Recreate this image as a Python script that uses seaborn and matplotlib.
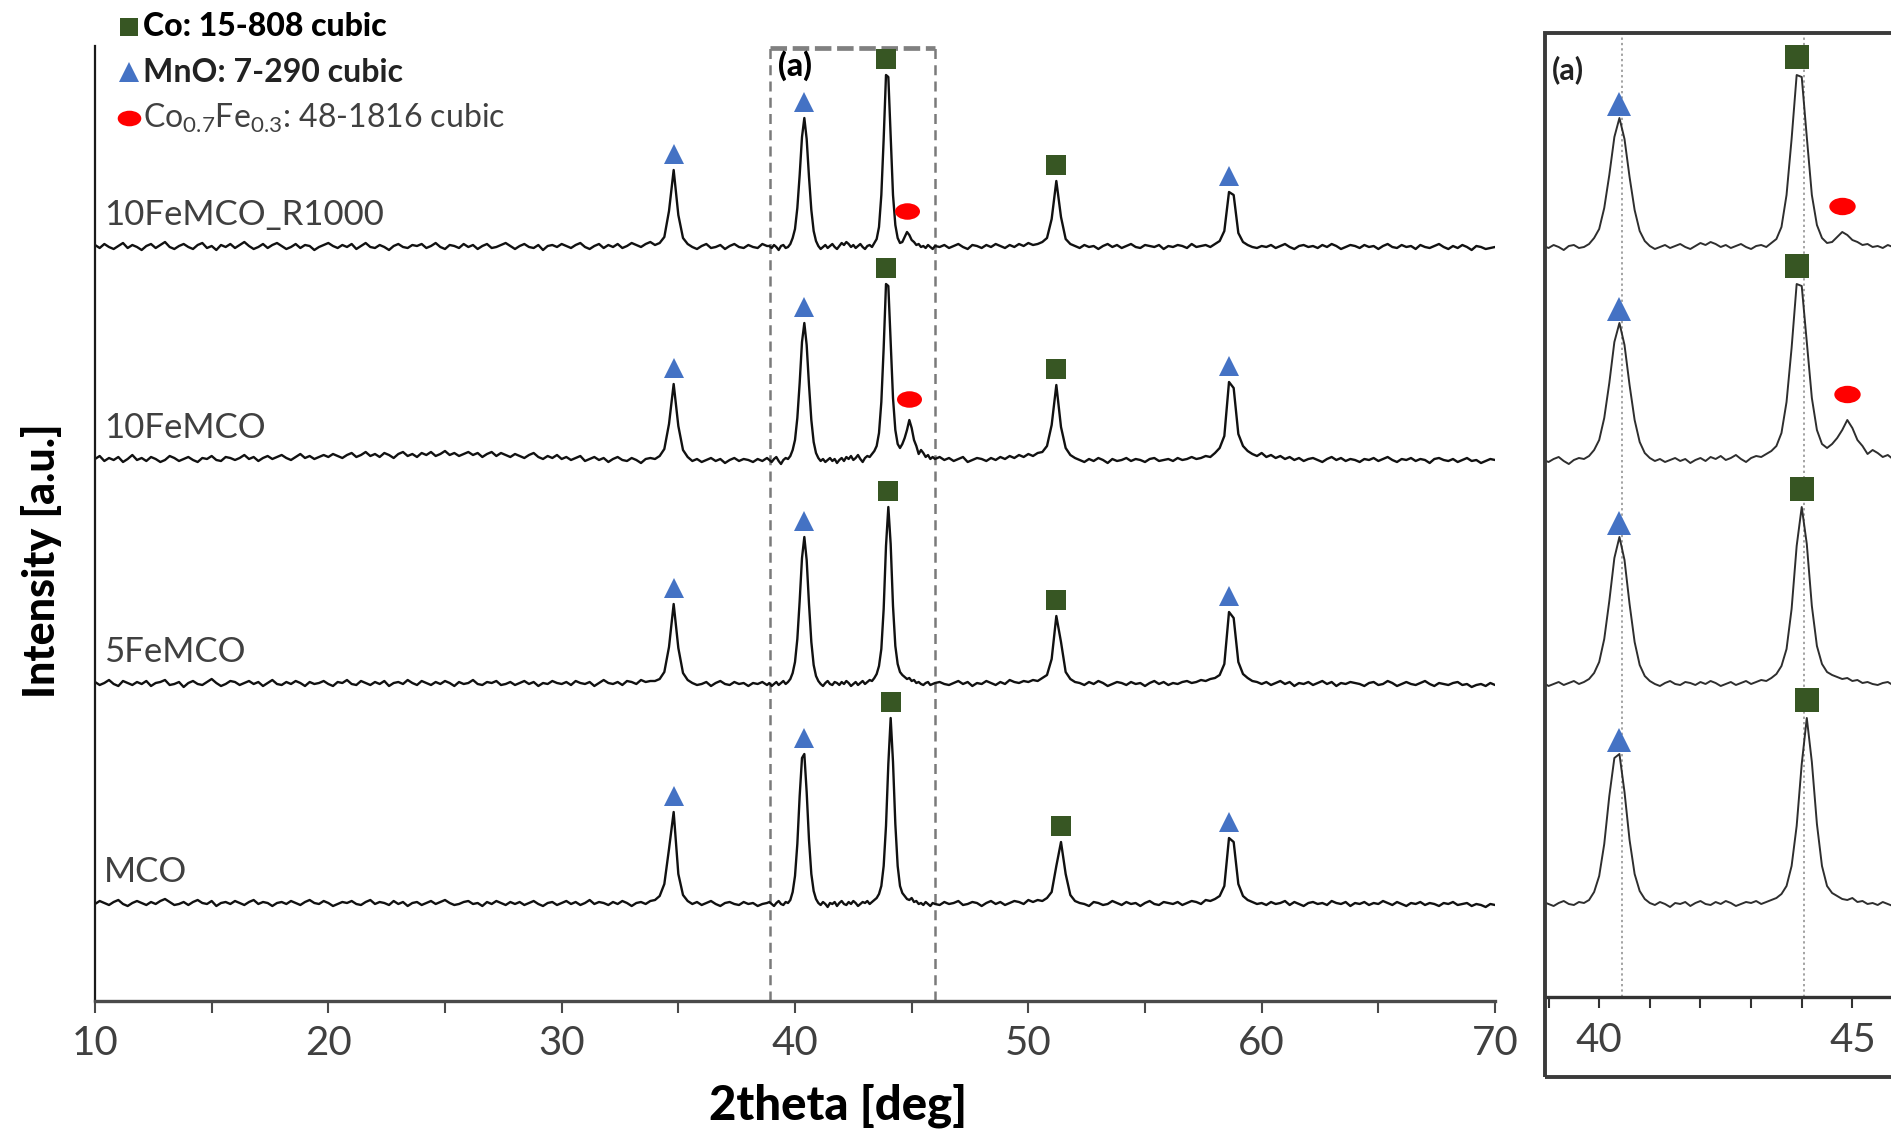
import numpy as np
import pandas as pd
import matplotlib
matplotlib.use("Agg")
import matplotlib.pyplot as plt
import seaborn as sns
from matplotlib.path import Path
from matplotlib.patches import Rectangle
from matplotlib.lines import Line2D
from matplotlib.ticker import MultipleLocator

# ---------------------------------------------------------------- data
samples = ["10FeMCO_R1000", "10FeMCO", "5FeMCO", "MCO"]

# Intensities (a.u.) on three 2theta segments:
#   lo  : 10.0 - 38.8 deg, 0.2 deg step
#   mid : 38.9 - 46.0 deg, 0.1 deg step
#   hi  : 46.2 - 70.0 deg, 0.2 deg step
r1000_lo = [2, -1, 3, 0, -2, 1, 4, -1, 2, 0,
            -3, 1, 3, -1, 2, 5, 0, -2, 1, 3,
            0, -2, 2, 4, -1, 1, -3, 2, 0, 3,
            -1, 2, 5, 1, -2, 0, 3, -1, 2, 4,
            1, -2, 0, 3, -1, 2, 1, -3, 0, 2,
            4, 1, -1, 2, 0, 3, -2, 1, 4, 0,
            -1, 2, 0, -3, 1, 3, 0, -1, 2, 1,
            3, -1, 1, 4, 0, -2, 2, 1, -1, 3,
            0, 2, -2, 1, 3, -1, 0, 2, 4, 1,
            -2, 1, 3, 0, -1, 2, -3, 1, 2, 0,
            3, 1, -1, 2, 4, 0, -2, 1, 3, -1,
            2, 0, 3, -1, 1, 4, 2, 0, 3, 5,
            2, 4, 10, 36, 77, 32, 9, 3, 0, -2,
            1, 3, -1, 0, 2, -2, 1, 3, 0, -1,
            2, 0, -1, 3, 1]
r1000_mid = [1, -1, 2, 0, -3, 1, 2, -1, 0, 3,
             9, 18, 39, 72, 110, 129, 108, 70, 37, 16,
             6, 1, -2, 0, 2, -1, 1, 3, 0, -2,
             1, 4, 2, 5, 3, 0, 2, -1, 1, 3,
             0, -2, 1, 2, 0, 4, 8, 20, 52, 108,
             172, 170, 110, 52, 22, 9, 4, 5, 10, 15,
             12, 7, 5, 2, 3, 0, 1, -1, 2, 0,
             -2, 1]
r1000_hi = [0, 2, -1, 1, 3, 0, -2, 2, 1, -1,
            2, 0, 3, 1, -1, 2, 0, 3, 1, 4,
            2, 3, 5, 9, 28, 66, 30, 8, 3, 1,
            -1, 2, 0, 1, -2, 1, 3, 0, 2, -1,
            1, 3, 0, -1, 2, 1, 0, 2, -2, 1,
            0, 2, 1, -1, 3, 0, 1, 2, 0, 3,
            6, 16, 55, 52, 14, 5, 2, 0, -1, 1,
            0, 2, -1, 1, 3, 0, -2, 1, 2, 0,
            1, -1, 2, 0, 3, 1, -2, 0, 2, 1,
            -1, 2, 0, 1, -2, 1, 3, 0, -1, 2,
            0, 1, -2, 2, 0, -1, 1, 3, 0, -2,
            1, -1, 2, 0, -3, 1, 0, -2, -1, 0]

fe10_lo = [1, 4, -1, 2, 0, 3, -2, 1, 5, 0,
           2, -1, 3, 1, -2, 0, 4, 2, -1, 1,
           3, 0, -2, 2, 1, 4, 0, -1, 3, 2,
           0, 2, 5, 1, 3, -1, 2, 4, 1, 3,
           5, 2, 0, 3, 6, 2, 4, 1, 3, 5,
           3, 6, 4, 2, 5, 7, 3, 5, 8, 4,
           6, 3, 7, 5, 2, 6, 8, 4, 6, 3,
           7, 5, 8, 4, 6, 9, 5, 7, 4, 6,
           8, 5, 7, 3, 6, 8, 4, 7, 5, 3,
           6, 4, 2, 5, 7, 3, 1, 4, 2, 5,
           1, 3, 0, 2, 4, -1, 1, 3, 0, 2,
           -2, 1, 3, 0, -1, 2, 0, -3, 1, 2,
           1, 4, 11, 36, 76, 34, 10, 3, -1, 1,
           -2, 0, 2, -1, 1, -3, 0, 2, -1, 1,
           0, -2, 1, -1, 2]
fe10_mid = [0, -2, 1, 3, -1, -4, 0, 2, 1, 4,
            10, 20, 42, 77, 118, 137, 115, 75, 40, 18,
            7, 2, -1, 1, -2, 0, 2, -1, 1, -3,
            0, 2, -1, 3, 1, 4, 0, 2, 5, 1,
            -2, 2, 4, 3, 6, 9, 14, 27, 58, 112,
            176, 174, 118, 62, 30, 16, 12, 16, 22, 30,
            40, 32, 20, 14, 6, 10, 7, 3, 5, 1,
            3, 1]
fe10_hi = [3, 0, 2, -1, 1, 3, -2, 0, 2, 1,
           -1, 2, 0, 3, 1, 4, 2, 5, 3, 6,
           4, 7, 8, 14, 35, 75, 33, 12, 5, 2,
           0, -2, 1, -1, 2, 0, -3, 1, -1, 0,
           2, -1, 1, 0, -2, 1, 2, -1, 0, 1,
           -1, 2, 0, 1, 3, 1, 2, 4, 3, 7,
           12, 24, 78, 72, 26, 14, 9, 6, 4, 7,
           3, 5, 2, 4, 1, 3, 0, 2, -1, 1,
           2, 0, -2, 1, 3, 0, 2, -1, 1, 0,
           -2, 1, 0, 2, -1, 1, 3, 0, -2, 1,
           0, 2, -1, 1, 0, -3, 1, 2, 0, -1,
           1, -2, 0, 2, -1, 0, -3, -1, 1, 0]

fe5_lo = [2, -1, 1, 4, 0, -2, 3, 1, -1, 2,
          0, 3, -2, 1, 2, 4, -1, 0, 2, -3,
          1, 3, 0, -1, 2, 5, 1, -2, 0, 3,
          2, -1, 1, 3, 0, 2, -2, 1, 4, 0,
          -1, 2, 0, 3, 1, -2, 2, 0, 1, 3,
          0, -2, 2, 1, 4, 0, -1, 3, 1, -1,
          2, 0, 3, -2, 1, 2, 0, 4, 1, -1,
          3, 1, -1, 2, 0, 3, 1, -2, 2, 0,
          1, 4, 0, -1, 2, 1, 3, -1, 0, 2,
          -1, 1, 3, 0, 2, -2, 1, 0, 3, 1,
          0, 2, -1, 3, 1, 0, 2, -2, 1, 4,
          1, 0, 2, -1, 3, 2, 0, 4, 2, 3,
          3, 5, 12, 37, 80, 36, 11, 4, 1, -1,
          0, 2, -2, 1, 3, 0, -1, 2, 0, 1,
          -2, 1, 0, 2, -1]
fe5_mid = [1, -2, 0, 2, -1, 1, 3, 0, 2, 5,
           11, 22, 45, 83, 126, 147, 124, 80, 42, 19,
           8, 3, 0, -2, 1, 3, 0, -1, 2, 1,
           -1, 2, 0, 3, 1, -2, 0, 2, -1, 1,
           3, 0, 2, 4, 3, 6, 10, 18, 35, 75,
           138, 177, 140, 78, 38, 20, 12, 9, 7, 5,
           6, 3, 4, 1, 2, 0, -1, 1, 2, -1,
           0, 1]
fe5_hi = [2, 0, -1, 1, 3, 0, 2, -2, 1, 0,
          3, 1, -1, 2, 0, 4, 2, 1, 3, 2,
          4, 3, 6, 9, 25, 68, 42, 12, 5, 2,
          1, -1, 2, 0, 3, 1, -2, 0, 2, 1,
          -1, 2, 0, 1, -2, 1, 3, 0, 2, -1,
          1, 0, 2, 3, 1, 2, 4, 3, 5, 6,
          9, 20, 72, 66, 22, 10, 6, 3, 2, 0,
          2, -1, 1, 3, 0, 2, -2, 1, 0, 2,
          -1, 1, 3, 0, 2, -2, 1, 0, 2, 1,
          0, -2, 1, 2, -1, 0, 3, 1, -2, 0,
          2, 0, -1, 1, 3, 0, -2, 1, 0, -1,
          1, 2, -1, 0, -3, -1, 0, -2, 1, -1]

mco_lo = [0, 3, 1, -1, 2, 4, 0, -2, 1, 3,
          1, -1, 2, 0, 3, 5, 2, -1, 0, 2,
          -1, 2, 4, 1, 0, 3, -2, 1, 2, 0,
          3, 1, -1, 2, 4, 0, 2, 1, -2, 1,
          2, 0, 3, 1, -1, 2, 4, 1, 0, 3,
          1, -2, 0, 2, 1, 3, 0, -1, 2, 4,
          0, 2, 1, -1, 3, 0, 2, -2, 1, 2,
          -1, 1, 3, 0, 2, 4, 1, -1, 0, 2,
          3, 0, 1, -2, 2, 0, 3, 1, -1, 2,
          0, 2, -1, 1, 3, 0, -2, 1, 2, -1,
          1, 3, 0, 2, -1, 1, 4, 0, 2, 1,
          -1, 2, 0, 3, 1, -2, 1, 2, 0, 3,
          4, 8, 20, 55, 92, 30, 9, 3, 0, 2,
          -1, 1, 3, 0, -2, 1, 2, 0, -1, 2,
          0, 1, -2, 0, 1]
mco_mid = [2, 0, -2, 1, 3, 0, -1, 2, 1, 4,
           12, 28, 60, 108, 146, 150, 112, 64, 30, 13,
           5, 1, -1, 2, 0, -3, 1, 0, 2, -2,
           1, 3, 0, -1, 2, 0, 3, 1, -2, 0,
           2, 1, 3, 0, 2, 4, 6, 10, 18, 38,
           78, 140, 186, 142, 80, 38, 18, 11, 8, 5,
           4, 6, 2, 3, 0, 1, -1, 2, 0, -2,
           1, 0]
mco_hi = [-1, 2, 0, 1, 3, -1, 0, 2, 1, -2,
          1, 3, 0, 2, -1, 1, 3, 2, 0, 4,
          2, 4, 3, 6, 12, 38, 62, 30, 9, 3,
          1, 0, -2, 2, 1, -1, 0, 3, 1, -1,
          2, 0, 1, -2, 1, 3, 0, -1, 2, 1,
          0, 2, -1, 1, 3, 2, 0, 4, 3, 5,
          8, 18, 66, 62, 20, 8, 4, 2, 0, 1,
          -1, 2, 0, 1, 3, -1, 2, 0, -2, 1,
          2, 0, 1, -1, 3, 1, 0, 2, -2, 1,
          0, 2, -1, 1, 0, 3, 1, -1, 2, 0,
          -2, 1, 0, 2, -1, 1, 0, -2, 1, 0,
          2, -1, 0, 1, -2, 0, -1, -3, 0, -1]

# reference peak positions (2theta, deg) of the identified phases
co_peaks = [44.0, 51.3]
mno_peaks = [34.8, 40.4, 58.7]
cofe_peaks = [44.9]
cofe_samples = ["10FeMCO_R1000", "10FeMCO"]

legend_labels = ["Co: 15-808 cubic", "MnO: 7-290 cubic",
                 r"Co$_{0.7}$Fe$_{0.3}$: 48-1816 cubic"]

main_ticks = [10, 20, 30, 40, 50, 60, 70]
inset_ticks = [40, 45]
zoom_window = [38.93, 46.0]
inset_guides = [40.46, 44.04]

# ---------------------------------------------------------------- layout / style
W, H = 1891, 1137
TRACE_OFFSET = {"10FeMCO_R1000": 754, "10FeMCO": 541, "5FeMCO": 317, "MCO": 97}
LABEL_LIFT = 32
C_TRI, C_SQ, C_ELL = "#4472C4", "#375623", "#FF0000"
TXT = "#404040"

sns.set_theme(style="white")
plt.rcParams["font.family"] = ["Lato", "DejaVu Sans"]
plt.rcParams["mathtext.fontset"] = "custom"
plt.rcParams["mathtext.rm"] = "Lato"
plt.rcParams["mathtext.it"] = "Lato:italic"
plt.rcParams["mathtext.bf"] = "Lato:bold"


def fx(px):
    return px / W


def fy(py):
    return 1 - py / H


def segment_grid(lo, mid, hi):
    return np.concatenate([10.0 + 0.2 * np.arange(len(lo)),
                           38.9 + 0.1 * np.arange(len(mid)),
                           46.2 + 0.2 * np.arange(len(hi))])


series = {
    "10FeMCO_R1000": (r1000_lo, r1000_mid, r1000_hi),
    "10FeMCO": (fe10_lo, fe10_mid, fe10_hi),
    "5FeMCO": (fe5_lo, fe5_mid, fe5_hi),
    "MCO": (mco_lo, mco_mid, mco_hi),
}

frames = []
for name in samples:
    lo, mid, hi = series[name]
    tt = segment_grid(lo, mid, hi)
    inten = np.array(lo + mid + hi, dtype=float)
    frames.append(pd.DataFrame({"two_theta": tt, "intensity": inten,
                                "sample": name}))
df = pd.concat(frames, ignore_index=True)
df["shifted"] = df["intensity"] + df["sample"].map(TRACE_OFFSET)

ellipse_marker = Path(Path.unit_circle().vertices * np.array([1.0, 0.66]),
                      Path.unit_circle().codes)


def peak_top(sub, pos, win=0.25):
    m = (sub["two_theta"] > pos - win) & (sub["two_theta"] < pos + win)
    row = sub[m].loc[sub[m]["shifted"].idxmax()]
    return row["two_theta"], row["shifted"]


def draw_markers(ax, sizes, gaps):
    x0, x1 = ax.get_xlim()
    for name in samples:
        sub = df[df["sample"] == name]
        groups = [(mno_peaks, "^", C_TRI, "tri"), (co_peaks, "s", C_SQ, "sq")]
        if name in cofe_samples:
            groups.append((cofe_peaks, ellipse_marker, C_ELL, "ell"))
        for peaks, mk, col, key in groups:
            for p in peaks:
                if not (x0 < p < x1):
                    continue
                x, y = peak_top(sub, p)
                ax.plot([x], [y + gaps[key]], ls="none", marker=mk,
                        ms=sizes[key], color=col, mew=0, zorder=5,
                        clip_on=False)


fig = plt.figure(figsize=(W / 100, H / 100), dpi=100)
fig.patch.set_facecolor("white")

# ---------------------------------------------------------------- main panel
ax = fig.add_axes([fx(95), fy(1001), fx(1400), 955 / H])
sns.lineplot(data=df, x="two_theta", y="shifted", units="sample",
             estimator=None, sort=False, color="#111111", lw=1.7, ax=ax)
ax.set_xlim(10, 70)
ax.set_ylim(0, 955)
ax.set_xlabel("")
ax.set_ylabel("")
ax.set_facecolor("white")
for s in ["top", "right"]:
    ax.spines[s].set_visible(False)
ax.spines["left"].set_linewidth(1.6)
ax.spines["left"].set_color("#1a1a1a")
ax.spines["bottom"].set_linewidth(2.4)
ax.spines["bottom"].set_color("#4a4a4a")
ax.set_xticks(main_ticks)
ax.xaxis.set_minor_locator(MultipleLocator(5))
ax.tick_params(axis="x", which="both", direction="out", length=8.5, width=1.5,
               color="#4a4a4a", bottom=True)
ax.tick_params(axis="x", which="major", labelsize=29, labelcolor=TXT, pad=9)
ax.tick_params(axis="y", left=False, labelleft=False)

draw_markers(ax, sizes={"tri": 15, "sq": 14, "ell": 18},
             gaps={"tri": 16, "sq": 16, "ell": 21})

for name in samples:
    ax.text(10.4, TRACE_OFFSET[name] + LABEL_LIFT, name, ha="left",
            va="center", fontsize=25, color=TXT)

# dashed frame marking the zoomed window
for xv in zoom_window:
    ax.plot([xv, xv], [0, 955], color="#7a7a7a", lw=1.8,
            dashes=(4, 2.5), clip_on=False, zorder=1)
ax.plot(zoom_window, [953, 953], color="#808080", lw=3.4,
        dashes=(3.5, 1.2), clip_on=False, zorder=1)
ax.text(zoom_window[0] + 0.35, 935, "(a)", ha="left", va="center",
        fontsize=23, fontweight="black", color="black")

# ---------------------------------------------------------------- inset panel
inset_px = (1545, 33, 1903, 997)
axi = fig.add_axes([fx(inset_px[0]), fy(inset_px[3]),
                    fx(inset_px[2] - inset_px[0]),
                    (inset_px[3] - inset_px[1]) / H])
sns.lineplot(data=df, x="two_theta", y="shifted", units="sample",
             estimator=None, sort=False, color="#2e2e2e", lw=1.4, ax=axi)
axi.set_xlim(*zoom_window)
axi.set_ylim(1001 - inset_px[3], 1001 - inset_px[1])
axi.set_xlabel("")
axi.set_ylabel("")
axi.set_facecolor("white")
for s in ["top", "right", "left"]:
    axi.spines[s].set_visible(False)
axi.spines["bottom"].set_linewidth(2.4)
axi.spines["bottom"].set_color("#333333")
axi.set_xticks(inset_ticks)
axi.xaxis.set_minor_locator(MultipleLocator(1))
axi.tick_params(axis="x", which="both", direction="out", length=8, width=1.5,
                color="#333333", bottom=True)
axi.tick_params(axis="x", which="major", labelsize=29, labelcolor=TXT, pad=10)
axi.tick_params(axis="y", left=False, labelleft=False)
for xv in inset_guides:
    axi.axvline(xv, color="#8a8a8a", lw=1.1, ls=(0, (1.5, 2)), zorder=0)
draw_markers(axi, sizes={"tri": 17, "sq": 17, "ell": 19},
             gaps={"tri": 14, "sq": 18, "ell": 26})
axi.text(0.02, 0.962, "(a)", transform=axi.transAxes, ha="left",
         va="center", fontsize=22, fontweight="bold", color="#222222")

frame = Rectangle((fx(1545), fy(1077)), fx(1903 - 1545), (1077 - 33) / H,
                  transform=fig.transFigure, fill=False, lw=2.8,
                  edgecolor="#3a3a3a", zorder=10)
fig.add_artist(frame)

# ---------------------------------------------------------------- axis titles
fig.text(fx(838), fy(1106), "2theta [deg]", ha="center", va="center",
         fontsize=34, fontweight="black", color="black")
fig.text(fx(42), fy(561), "Intensity [a.u.]", ha="center", va="center",
         rotation=90, fontsize=31, fontweight="black", color="black")

# ---------------------------------------------------------------- phase key
key_rows = [
    ("s", C_SQ, 13, legend_labels[0], 27, "black", "black"),
    ("^", C_TRI, 14, legend_labels[1], 72, "bold", "#222222"),
    (ellipse_marker, C_ELL, 17, legend_labels[2], 118, "normal", TXT),
]
for mk, col, ms, label, ypx, weight, tcol in key_rows:
    fig.add_artist(Line2D([fx(129)], [fy(ypx)], transform=fig.transFigure,
                          ls="none", marker=mk, ms=ms, color=col, mew=0))
    fig.text(fx(143), fy(ypx), label, ha="left", va="center", fontsize=23,
             fontweight=weight, color=tcol)

fig.savefig("out.png", dpi=100, facecolor="white")
